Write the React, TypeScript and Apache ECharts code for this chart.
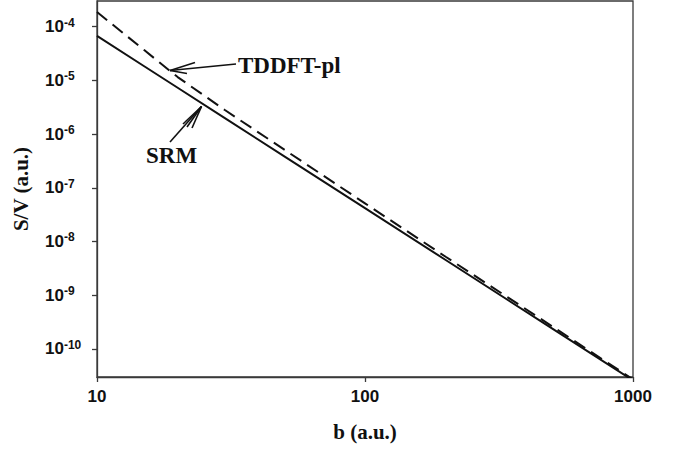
import React, { useEffect, useRef } from 'react';
import * as echarts from 'echarts';

// impact parameter b (a.u.)
const bValues = [10, 15, 20, 30, 50, 100, 200, 500, 1000];
// S/V (a.u.) — SRM (solid)
const srmValues = [6.71e-5, 1.83e-5, 7.28e-6, 1.98e-6, 3.85e-7, 4.17e-8, 4.52e-9, 2.39e-10, 2.59e-11];
// S/V (a.u.) — TDDFT-pl (dashed)
const tddftValues = [1.87e-4, 3.66e-5, 1.15e-5, 2.8e-6, 5.13e-7, 5.13e-8, 5.19e-9, 2.62e-10, 2.71e-11];

const xTickLabels = ['10', '100', '1000'];
const yTickValues = [1e-10, 1e-9, 1e-8, 1e-7, 1e-6, 1e-5, 1e-4];
const yMin = 3e-11;
const yMax = 3e-4;

const SANS = '"Liberation Sans", Arial, sans-serif';
const SERIF = '"Liberation Serif", "Times New Roman", serif';
const AXIS_COLOR = '#3a3a3a';
const INK = '#111';

export default function App() {
  const ref = useRef<HTMLDivElement>(null);

  useEffect(() => {
    if (!ref.current) return;
    const chart = echarts.init(ref.current, null, { renderer: 'svg' });

    const srmData = bValues.map((b, i) => [b, srmValues[i]]);
    const tddftData = bValues.map((b, i) => [b, tddftValues[i]]);

    const arrowStyle = { stroke: INK, lineWidth: 1.6 };
    const ln = (x1: number, y1: number, x2: number, y2: number) => ({
      type: 'line',
      shape: { x1, y1, x2, y2 },
      style: arrowStyle,
      silent: true,
    });

    chart.setOption({
      animation: false,
      backgroundColor: '#fff',
      grid: {
        left: 97,
        right: 48,
        top: 1,
        bottom: 72,
        show: true,
        borderColor: AXIS_COLOR,
        borderWidth: 1.3,
        backgroundColor: 'transparent',
      },
      xAxis: {
        type: 'log',
        logBase: 10,
        min: 10,
        max: 1000,
        name: 'b (a.u.)',
        nameLocation: 'middle',
        nameGap: 44,
        nameTextStyle: { fontFamily: SERIF, fontWeight: 'bold', fontSize: 21, color: INK },
        axisLine: { show: true, lineStyle: { color: AXIS_COLOR, width: 1.3 } },
        axisTick: { show: true, inside: false, length: 5, lineStyle: { color: AXIS_COLOR, width: 1.3 } },
        minorTick: { show: false },
        splitLine: { show: false },
        axisLabel: {
          margin: 11,
          fontFamily: SANS,
          fontWeight: 'bold',
          fontSize: 17,
          color: INK,
          formatter: (v: number) => {
            const e = Math.log10(v);
            const r = Math.round(e);
            if (Math.abs(e - r) > 1e-6) return '';
            return xTickLabels.find((t) => Number(t) === Math.pow(10, r)) || '';
          },
        },
      },
      yAxis: {
        type: 'log',
        logBase: 10,
        min: yMin,
        max: yMax,
        name: 'S/V (a.u.)',
        nameLocation: 'middle',
        nameRotate: 90,
        nameGap: 66,
        nameTextStyle: { fontFamily: SERIF, fontWeight: 'bold', fontSize: 21, color: INK },
        axisLine: { show: true, lineStyle: { color: AXIS_COLOR, width: 1.3 } },
        axisTick: {
          show: true,
          inside: false,
          length: 5,
          customValues: yTickValues,
          lineStyle: { color: AXIS_COLOR, width: 1.3 },
        },
        minorTick: { show: false },
        splitLine: { show: false },
        axisLabel: {
          align: 'left',
          margin: 52,
          customValues: yTickValues,
          formatter: (v: number) => {
            const e = Math.log10(v);
            const r = Math.round(e);
            if (Math.abs(e - r) > 1e-6) return '';
            return `{b|10}{s|${r}}`;
          },
          rich: {
            b: { fontFamily: SANS, fontWeight: 'bold', fontSize: 17, color: INK },
            s: { fontFamily: SANS, fontWeight: 'bold', fontSize: 12, color: INK, padding: [0, 0, 8, 0] },
          },
        },
      },
      series: [
        {
          name: 'SRM',
          type: 'line',
          data: srmData,
          showSymbol: false,
          symbol: 'none',
          clip: true,
          lineStyle: { color: INK, width: 2, type: 'solid' },
        },
        {
          name: 'TDDFT-pl',
          type: 'line',
          data: tddftData,
          showSymbol: false,
          symbol: 'none',
          clip: true,
          lineStyle: { color: INK, width: 2, type: [13, 7] },
        },
      ],
      graphic: [
        {
          type: 'text',
          x: 238,
          y: 65,
          silent: true,
          style: {
            text: 'TDDFT-pl',
            fontFamily: SERIF,
            fontWeight: 'bold',
            fontSize: 23,
            fill: INK,
            verticalAlign: 'middle',
          },
        },
        {
          type: 'text',
          x: 146,
          y: 155,
          silent: true,
          style: {
            text: 'SRM',
            fontFamily: SERIF,
            fontWeight: 'bold',
            fontSize: 23,
            fill: INK,
            verticalAlign: 'middle',
          },
        },
        // TDDFT-pl arrow
        ln(236, 64, 170, 70.5),
        ln(170, 70.5, 195, 62.5),
        ln(170, 70.5, 187, 73.5),
        // SRM arrow
        ln(170, 142, 201.5, 106.5),
        ln(201.5, 106.5, 183, 124),
        ln(201.5, 106.5, 187, 127),
        ln(201.5, 106.5, 192, 128),
      ],
    });

    return () => chart.dispose();
  }, []);

  return (
    <div
      ref={ref}
      style={{ position: 'fixed', left: 0, top: 0, width: 681, height: 449, background: '#fff' }}
    />
  );
}
